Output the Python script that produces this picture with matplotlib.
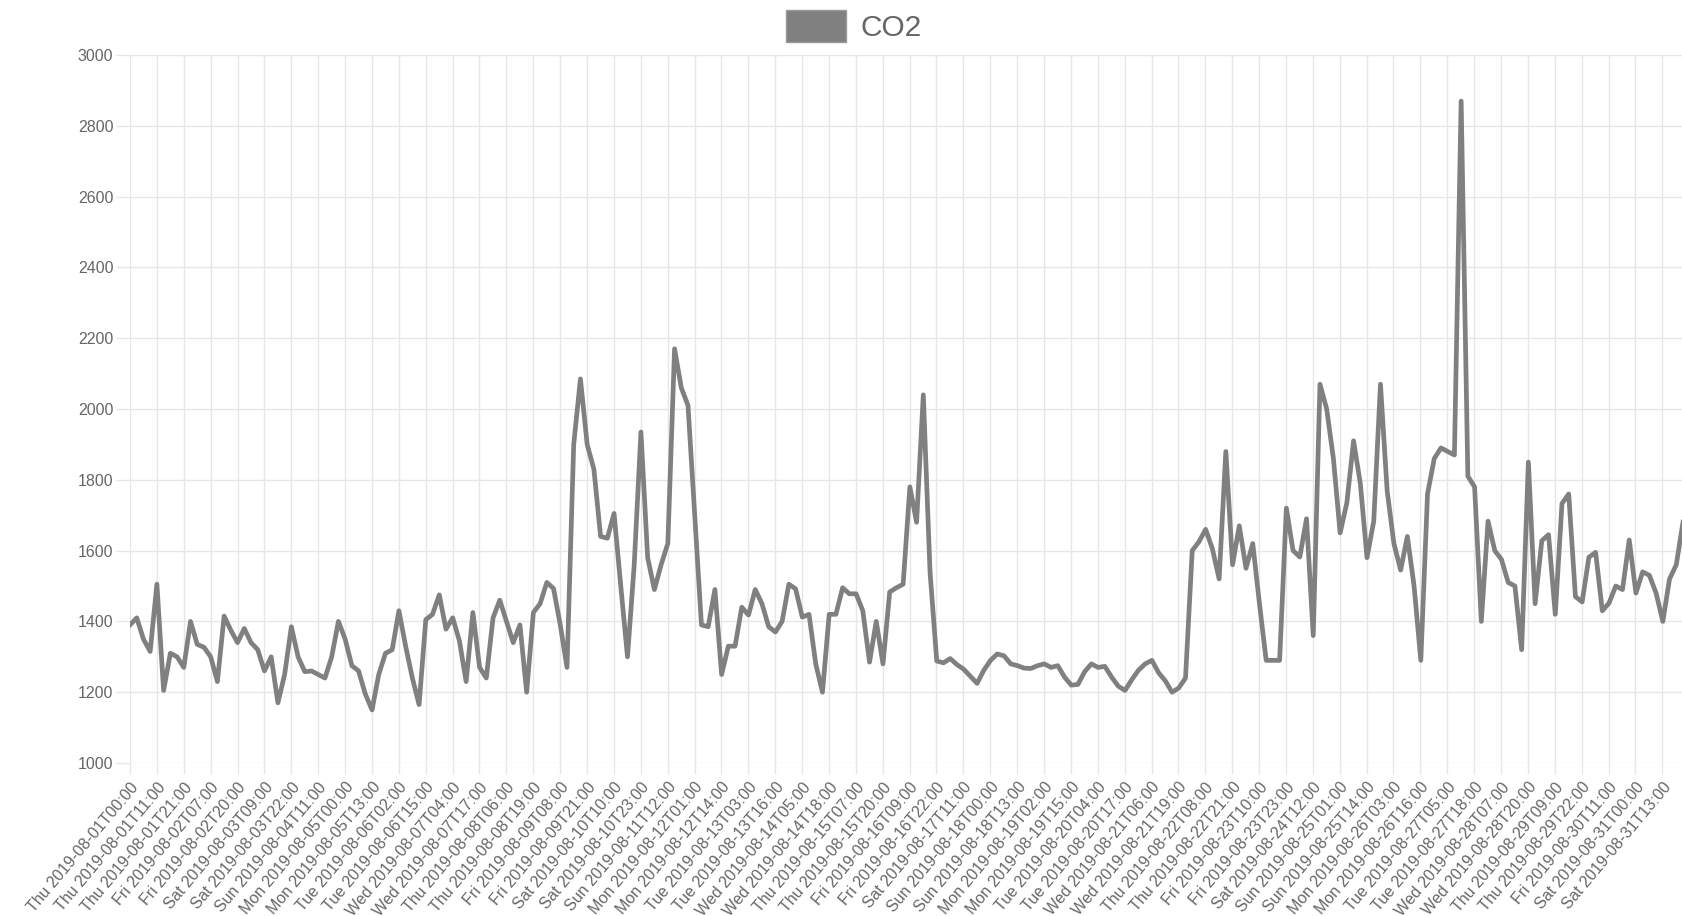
import numpy as np
import matplotlib
matplotlib.use("Agg")
import matplotlib.pyplot as plt
from matplotlib.patches import Patch

plt.rcParams['font.family'] = ['Liberation Sans', 'DejaVu Sans']

# Etiquetas visibles del eje x (Chart.js muestra una de cada 13 lecturas)
tick_labels = [
    'Thu 2019-08-01T00:00', 'Thu 2019-08-01T11:00', 'Thu 2019-08-01T21:00', 'Fri 2019-08-02T07:00',
    'Fri 2019-08-02T20:00', 'Sat 2019-08-03T09:00', 'Sat 2019-08-03T22:00', 'Sun 2019-08-04T11:00',
    'Mon 2019-08-05T00:00', 'Mon 2019-08-05T13:00', 'Tue 2019-08-06T02:00', 'Tue 2019-08-06T15:00',
    'Wed 2019-08-07T04:00', 'Wed 2019-08-07T17:00', 'Thu 2019-08-08T06:00', 'Thu 2019-08-08T19:00',
    'Fri 2019-08-09T08:00', 'Fri 2019-08-09T21:00', 'Sat 2019-08-10T10:00', 'Sat 2019-08-10T23:00',
    'Sun 2019-08-11T12:00', 'Mon 2019-08-12T01:00', 'Mon 2019-08-12T14:00', 'Tue 2019-08-13T03:00',
    'Tue 2019-08-13T16:00', 'Wed 2019-08-14T05:00', 'Wed 2019-08-14T18:00', 'Thu 2019-08-15T07:00',
    'Thu 2019-08-15T20:00', 'Fri 2019-08-16T09:00', 'Fri 2019-08-16T22:00', 'Sat 2019-08-17T11:00',
    'Sun 2019-08-18T00:00', 'Sun 2019-08-18T13:00', 'Mon 2019-08-19T02:00', 'Mon 2019-08-19T15:00',
    'Tue 2019-08-20T04:00', 'Tue 2019-08-20T17:00', 'Wed 2019-08-21T06:00', 'Wed 2019-08-21T19:00',
    'Thu 2019-08-22T08:00', 'Thu 2019-08-22T21:00', 'Fri 2019-08-23T10:00', 'Fri 2019-08-23T23:00',
    'Sat 2019-08-24T12:00', 'Sun 2019-08-25T01:00', 'Sun 2019-08-25T14:00', 'Mon 2019-08-26T03:00',
    'Mon 2019-08-26T16:00', 'Tue 2019-08-27T05:00', 'Tue 2019-08-27T18:00', 'Wed 2019-08-28T07:00',
    'Wed 2019-08-28T20:00', 'Thu 2019-08-29T09:00', 'Thu 2019-08-29T22:00', 'Fri 2019-08-30T11:00',
    'Sat 2019-08-31T00:00', 'Sat 2019-08-31T13:00',
]
LABEL_STEP = 13
N_READINGS = 752

# CO2 (ppm), muestreado de forma regular a lo largo de todo el mes
co2 = [
    1390, 1410, 1350, 1315, 1505, 1205, 1310, 1300, 1270, 1400,
    1335, 1327, 1300, 1230, 1415, 1375, 1340, 1380, 1340, 1320,
    1260, 1300, 1170, 1250, 1385, 1300, 1258, 1260, 1250, 1240,
    1300, 1400, 1350, 1275, 1260, 1195, 1150, 1250, 1310, 1320,
    1430, 1330, 1240, 1165, 1405, 1420, 1475, 1378, 1410, 1345,
    1230, 1425, 1270, 1240, 1410, 1460, 1400, 1340, 1390, 1200,
    1425, 1450, 1510, 1493, 1390, 1270, 1900, 2085, 1900, 1830,
    1640, 1635, 1705, 1500, 1300, 1560, 1935, 1580, 1490, 1560,
    1620, 2170, 2060, 2010, 1700, 1390, 1385, 1490, 1250, 1330,
    1330, 1440, 1418, 1490, 1450, 1385, 1370, 1400, 1505, 1492,
    1412, 1420, 1280, 1200, 1420, 1420, 1495, 1478, 1478, 1430,
    1285, 1400, 1280, 1483, 1495, 1505, 1780, 1680, 2040, 1540,
    1288, 1283, 1295, 1278, 1265, 1245, 1225, 1262, 1290, 1308,
    1303, 1280, 1275, 1268, 1267, 1275, 1280, 1270, 1275, 1243,
    1220, 1222, 1258, 1280, 1270, 1273, 1243, 1217, 1205, 1235,
    1262, 1280, 1290, 1255, 1232, 1200, 1212, 1240, 1600, 1625,
    1660, 1605, 1520, 1880, 1560, 1670, 1550, 1620, 1450, 1290,
    1290, 1290, 1720, 1600, 1582, 1690, 1360, 2070, 2000, 1860,
    1650, 1735, 1910, 1790, 1580, 1683, 2070, 1768, 1620, 1545,
    1640, 1500, 1290, 1760, 1860, 1890, 1880, 1870, 2870, 1810,
    1780, 1400, 1683, 1600, 1575, 1510, 1500, 1320, 1850, 1450,
    1628, 1645, 1420, 1733, 1760, 1470, 1455, 1581, 1595, 1430,
    1452, 1500, 1490, 1630, 1480, 1540, 1530, 1480, 1400, 1520,
    1560, 1680,
]

y_ticks = np.arange(1000, 3001, 200)

GRID = '#e6e6e6'
TEXT = '#666666'
LINE = '#808080'

x = np.linspace(0, N_READINGS - 1, len(co2))
tick_pos = np.arange(len(tick_labels)) * LABEL_STEP

fig = plt.figure(figsize=(16.82, 9.16), dpi=100)
ax = fig.add_axes([130 / 1682, 1 - 763 / 916, 1553 / 1682, 708 / 916])

ax.plot(x, co2, color=LINE, lw=3.4, solid_joinstyle='round')

ax.set_xlim(0, N_READINGS - 1)
ax.set_ylim(1000, 3000)
ax.set_yticks(y_ticks)
ax.set_xticks(tick_pos)
ax.set_xticklabels(tick_labels, rotation=50, ha='right', va='top', rotation_mode='anchor')

ax.grid(True, color=GRID, lw=1.0)
ax.set_axisbelow(True)
for s in ax.spines.values():
    s.set_visible(False)
ax.tick_params(axis='both', color=GRID, width=1.0, labelcolor=TEXT, labelsize=11.5)
ax.tick_params(axis='y', length=10, pad=2)
ax.tick_params(axis='x', length=8, pad=4)

# Leyenda centrada arriba
fig.legend(handles=[Patch(facecolor=LINE, edgecolor='#9a9a9a', lw=1.0, label='CO2')],
           loc='center', bbox_to_anchor=(0.5077, 1 - 26 / 916), frameon=False,
           fontsize=21.5, labelcolor=TEXT, handlelength=2.0, handleheight=1.3,
           handletextpad=0.48, borderpad=0)

fig.savefig('out.png', dpi=100)
